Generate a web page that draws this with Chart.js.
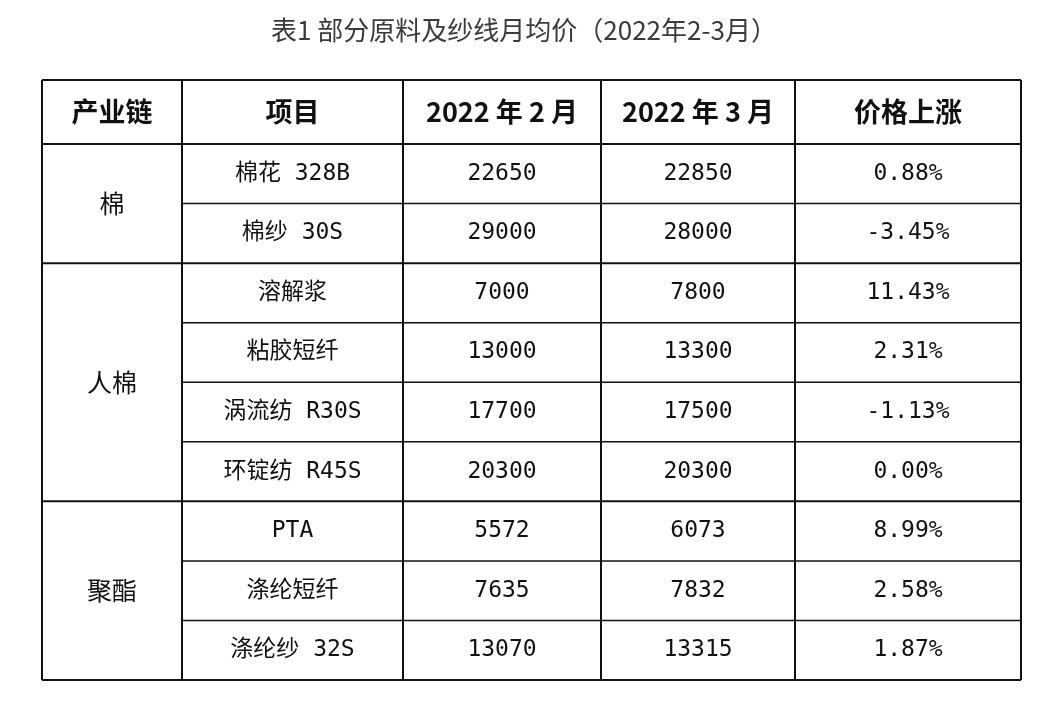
<!DOCTYPE html>
<html>
<head>
<meta charset="utf-8">
<script src="https://cdn.jsdelivr.net/npm/chart.js@4"></script>
<style>
  html, body { margin: 0; padding: 0; background: #fff; }
  #wrap { width: 1048px; height: 712px; position: relative; }
</style>
</head>
<body>
<div id="wrap"><canvas id="c"></canvas></div>
<script>
const title = '表1 部分原料及纱线月均价（2022年2-3月）';
const headers = ['产业链', '项目', '2022 年 2 月', '2022 年 3 月', '价格上涨'];
const groups = ['棉', '人棉', '聚酯'];
const groupSizes = [2, 4, 3];
const items = ['棉花 328B', '棉纱 30S', '溶解浆', '粘胶短纤', '涡流纺 R30S', '环锭纺 R45S', 'PTA', '涤纶短纤', '涤纶纱 32S'];
const febPrices = [22650, 29000, 7000, 13000, 17700, 20300, 5572, 7635, 13070];
const marPrices = [22850, 28000, 7800, 13300, 17500, 20300, 6073, 7832, 13315];
const changes = ['0.88%', '-3.45%', '11.43%', '2.31%', '-1.13%', '0.00%', '8.99%', '2.58%', '1.87%'];

// column widths / row heights in table units
const colWidths = [140, 221, 198, 194, 226];
const headerHeight = 64;
const rowHeight = 59.5;

const colEdges = [0];
colWidths.forEach(w => colEdges.push(colEdges[colEdges.length - 1] + w));
const rowEdges = [0, headerHeight];
items.forEach(() => rowEdges.push(rowEdges[rowEdges.length - 1] + rowHeight));

const tablePlugin = {
  id: 'tablePlugin',
  afterDraw(chart) {
    const ctx = chart.ctx;
    const xs = chart.scales.x, ys = chart.scales.y;
    const X = v => xs.getPixelForValue(v);
    const Y = v => ys.getPixelForValue(v);
    const totalW = colEdges[colEdges.length - 1];
    const totalH = rowEdges[rowEdges.length - 1];

    ctx.save();
    ctx.fillStyle = '#3a3a3a';
    ctx.font = '26px "Noto Sans CJK SC", sans-serif';
    ctx.textAlign = 'center';
    ctx.textBaseline = 'middle';
    ctx.fillText(title, chart.width / 2, 30);

    ctx.strokeStyle = '#111';
    // horizontal lines
    const groupEnds = [];
    let acc = 0;
    groupSizes.forEach(n => { acc += n; groupEnds.push(acc); });
    rowEdges.forEach((r, i) => {
      const rowIdx = i - 1;
      const full = i <= 1 || i === rowEdges.length - 1 || groupEnds.includes(rowIdx);
      ctx.lineWidth = full ? 2 : 1.5;
      ctx.beginPath();
      ctx.moveTo(X(full ? 0 : colEdges[1]), Y(r));
      ctx.lineTo(X(totalW), Y(r));
      ctx.stroke();
    });
    // vertical lines
    colEdges.forEach(c => {
      ctx.lineWidth = 2;
      ctx.beginPath();
      ctx.moveTo(X(c), Y(0));
      ctx.lineTo(X(c), Y(totalH));
      ctx.stroke();
    });

    // header
    ctx.fillStyle = '#111';
    ctx.font = 'bold 27px "Noto Sans CJK SC", sans-serif';
    headers.forEach((h, i) => {
      ctx.fillText(h, X((colEdges[i] + colEdges[i + 1]) / 2), Y(headerHeight / 2));
    });

    // groups
    ctx.font = '25px "Noto Sans CJK SC", sans-serif';
    let start = 0;
    groups.forEach((g, i) => {
      const top = rowEdges[1 + start], bot = rowEdges[1 + start + groupSizes[i]];
      ctx.fillText(g, X(colEdges[1] / 2), Y((top + bot) / 2));
      start += groupSizes[i];
    });

    // body
    ctx.font = '23px "DejaVu Sans Mono", "Noto Sans CJK SC", monospace';
    items.forEach((it, r) => {
      const cy = Y((rowEdges[r + 1] + rowEdges[r + 2]) / 2);
      const cells = [it, String(febPrices[r]), String(marPrices[r]), changes[r]];
      cells.forEach((t, k) => {
        const ci = k + 1;
        ctx.fillText(t, X((colEdges[ci] + colEdges[ci + 1]) / 2), cy);
      });
    });
    ctx.restore();
  }
};

new Chart(document.getElementById('c'), {
  type: 'scatter',
  data: { datasets: [{ data: [], pointRadius: 0 }] },
  options: {
    responsive: true,
    maintainAspectRatio: false,
    animation: false,
    layout: { padding: { left: 42, right: 27, top: 80, bottom: 32 } },
    plugins: { legend: { display: false }, tooltip: { enabled: false } },
    scales: {
      x: { type: 'linear', display: false, min: 0, max: colEdges[colEdges.length - 1] },
      y: { type: 'linear', display: false, reverse: true, min: 0, max: rowEdges[rowEdges.length - 1] }
    }
  },
  plugins: [tablePlugin]
});
</script>
</body>
</html>
